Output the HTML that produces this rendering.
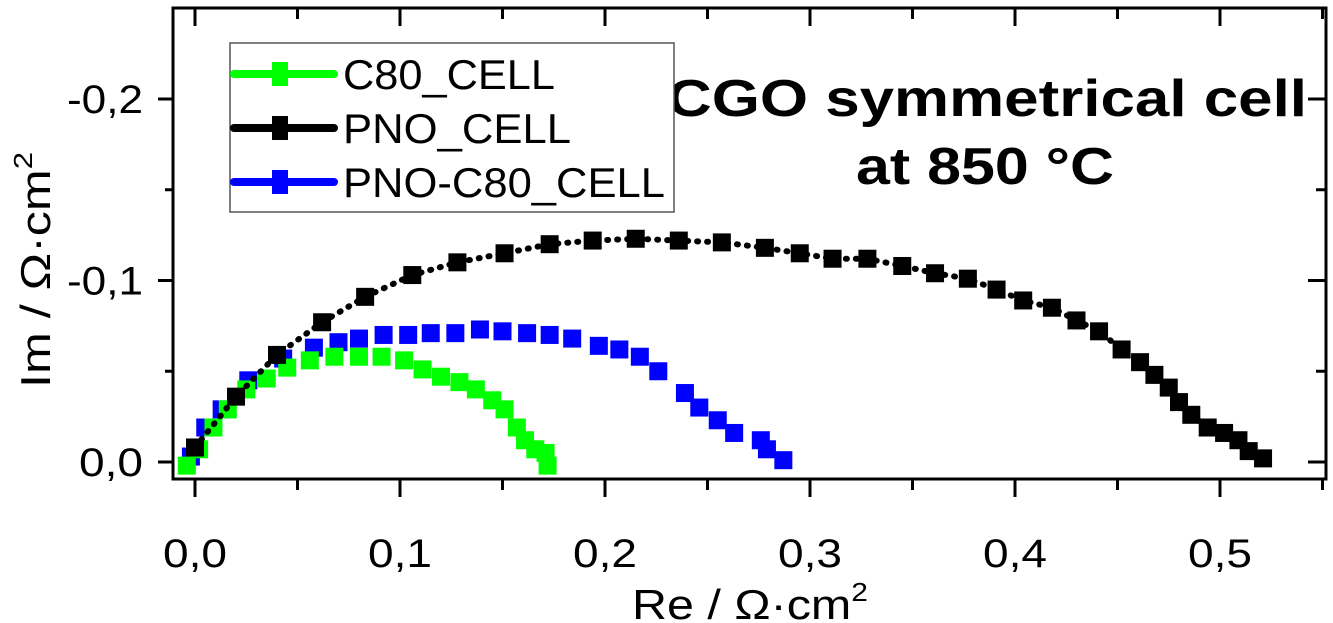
<!DOCTYPE html>
<html><head><meta charset="utf-8"><style>
html,body{margin:0;padding:0;background:#fff;}
svg{display:block;font-family:"Liberation Sans",Arial,sans-serif;}
</style></head><body>
<svg id="chart" width="1333" height="623" viewBox="0 0 1333 623" xmlns="http://www.w3.org/2000/svg">
<rect x="173" y="8" width="1153" height="471" fill="none" stroke="#000" stroke-width="3"/>
<g id="ticks"></g>
<g id="series"></g>
<text x="750" y="619" font-size="42" text-anchor="middle" textLength="236" lengthAdjust="spacingAndGlyphs">Re / Ω·cm<tspan font-size="26" dy="-18">2</tspan></text>
<text transform="translate(50,270) rotate(-90)" font-size="42" text-anchor="middle" textLength="236" lengthAdjust="spacingAndGlyphs">Im / Ω·cm<tspan font-size="26" dy="-18">2</tspan></text>
<text x="987" y="116" font-size="52" font-weight="bold" text-anchor="middle" textLength="640" lengthAdjust="spacingAndGlyphs">CGO symmetrical cell</text>
<text x="985" y="184" font-size="52" font-weight="bold" text-anchor="middle" textLength="258" lengthAdjust="spacingAndGlyphs">at 850 °C</text>
<g>
<rect x="230" y="43" width="444" height="169" fill="#fff" stroke="#555" stroke-width="1.5"/>
<g id="legend-entries"></g>
</g>
</svg>
<script>
const xTickValues = [0, 0.1, 0.2, 0.3, 0.4, 0.5];
const xTickLabels = ["0,0", "0,1", "0,2", "0,3", "0,4", "0,5"];
const yTickValues = [0, 0.1, 0.2];
const yTickLabels = ["0,0", "-0,1", "-0,2"];
const seriesNames = ["C80_CELL", "PNO_CELL", "PNO-C80_CELL"];
const seriesColors = ["#00ff00", "#000000", "#0000ff"];
const c80Re = [-0.004,0.002,0.009,0.016,0.025,0.035,0.045,0.056,0.068,0.080,0.091,0.102,0.111,0.120,0.129,0.137,0.145,0.151,0.157,0.161,0.166,0.171,0.172];
const c80Im = [-0.002,0.007,0.019,0.029,0.040,0.046,0.052,0.056,0.058,0.058,0.058,0.056,0.051,0.047,0.044,0.040,0.034,0.029,0.019,0.012,0.007,0.005,-0.002];
const pnoRe = [0.000,0.020,0.040,0.062,0.083,0.106,0.128,0.151,0.173,0.194,0.215,0.236,0.257,0.278,0.295,0.311,0.328,0.345,0.361,0.377,0.391,0.404,0.418,0.430,0.441,0.452,0.461,0.468,0.475,0.480,0.486,0.494,0.502,0.509,0.514,0.521];
const pnoIm = [0.008,0.036,0.059,0.077,0.091,0.103,0.110,0.115,0.120,0.122,0.123,0.122,0.121,0.118,0.115,0.112,0.112,0.108,0.104,0.101,0.095,0.089,0.085,0.078,0.072,0.062,0.055,0.048,0.041,0.033,0.026,0.019,0.016,0.012,0.006,0.002];
const mixRe = [-0.002,0.005,0.013,0.026,0.043,0.058,0.070,0.080,0.092,0.104,0.115,0.127,0.139,0.150,0.162,0.173,0.184,0.197,0.207,0.217,0.226,0.239,0.246,0.255,0.263,0.276,0.279,0.287];
const mixIm = [0.003,0.019,0.029,0.045,0.057,0.063,0.066,0.068,0.070,0.070,0.071,0.071,0.073,0.072,0.071,0.070,0.068,0.064,0.062,0.058,0.050,0.038,0.030,0.023,0.016,0.012,0.007,0.001];

const X0 = 195, XS = 2050, Y0 = 462, YS = 1815;
function xPos(v){ return X0 + v * XS; }
function yPos(v){ return Y0 - v * YS; }
const NS = "http://www.w3.org/2000/svg";
function mk(tag, attrs, parent){ const e = document.createElementNS(NS, tag); for (const k in attrs) e.setAttribute(k, attrs[k]); parent.appendChild(e); return e; }

const ticks = document.getElementById('ticks');
for (let i = 0; i <= 11; i++) {
  const v = i * 0.05, x = xPos(v), major = i % 2 === 0;
  const t1 = mk('line', {x1:x, x2:x, y1:479, y2: major ? 497 : 490, stroke:'#000','stroke-width':3}, ticks);
  
  
  const t2 = mk('line', {x1:x, x2:x, y1:8, y2: major ? 26 : 19, stroke:'#000','stroke-width':3}, ticks);
  
  
}
xTickValues.forEach((v, i) => {
  const t = mk('text', {x:xPos(v), y:567, 'font-size':40, 'text-anchor':'middle', textLength:64, lengthAdjust:'spacingAndGlyphs'}, ticks);
  t.textContent = xTickLabels[i];
  
  
});
for (let i = 0; i <= 4; i++) {
  const v = i * 0.05, y = yPos(v), major = i % 2 === 0;
  const t1 = mk('line', {x1:173, x2: major ? 158 : 165, y1:y, y2:y, stroke:'#000','stroke-width':3}, ticks);
  
  
  const t2 = mk('line', {x1:1326, x2: major ? 1308 : 1316, y1:y, y2:y, stroke:'#000','stroke-width':3}, ticks);
  
  
}
yTickValues.forEach((v, i) => {
  const t = mk('text', {x:143, y:yPos(v) + 14, 'font-size':40, 'text-anchor':'end', textLength: i === 0 ? 64 : 76, lengthAdjust:'spacingAndGlyphs'}, ticks);
  t.textContent = yTickLabels[i];
  
  
});

const series = document.getElementById('series');
const allRe = [c80Re, pnoRe, mixRe], allIm = [c80Im, pnoIm, mixIm];
const order = [2, 0, 1];
order.forEach(s => {
  const g = mk('g', {}, series);
  
  
  if (s === 1) {
    const pts = allRe[s].map((r, i) => xPos(r) + ',' + yPos(allIm[s][i])).join(' ');
    const pl = mk('polyline', {points:pts, fill:'none', stroke:seriesColors[s], 'stroke-width':6, 'stroke-dasharray':'1 9', 'stroke-linecap':'round'}, g);
    
    
  }
  const sz = s === 1 ? 18 : 18;
  allRe[s].forEach((r, i) => {
    const m = mk('rect', {x:xPos(r) - sz/2, y:yPos(allIm[s][i]) - sz/2, width:sz, height:sz, fill:seriesColors[s]}, g);
    
    
  });
});

const le = document.getElementById('legend-entries');
seriesNames.forEach((n, i) => {
  const y = 74 + i * 54;
  const g = mk('g', {}, le);
  
  
  mk('line', {x1:234, x2:334, y1:y, y2:y, stroke:seriesColors[i], 'stroke-width':8, 'stroke-linecap':'round'}, g);
  mk('rect', {x:272, y:y-12, width:16, height:24, fill:seriesColors[i]}, g);
  const t = mk('text', {x:343, y:y + 15, 'font-size':42, textLength: [212, 228, 322][i], lengthAdjust:'spacingAndGlyphs'}, g);
  t.textContent = n;
});
</script>
</body></html>
